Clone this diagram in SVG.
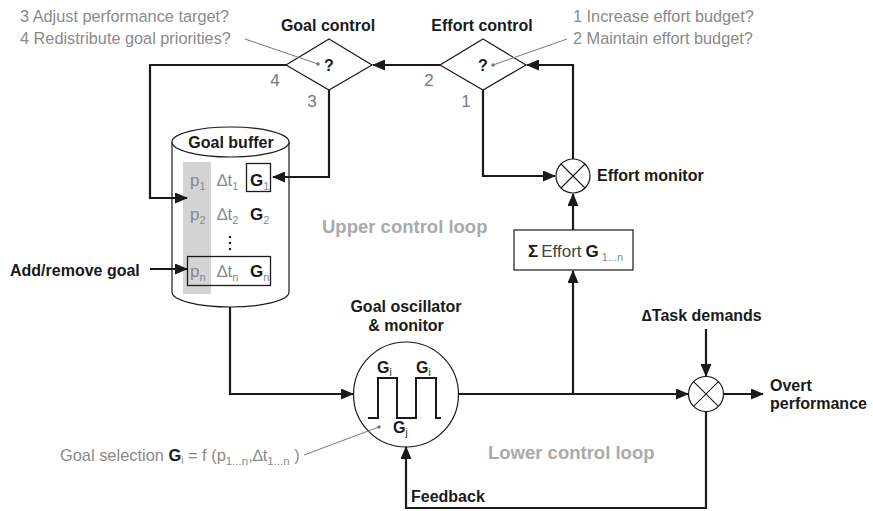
<svg xmlns="http://www.w3.org/2000/svg" width="873" height="511" viewBox="0 0 873 511">
  <style>
    text { font-family: "Liberation Sans", Arial, sans-serif; }
    .lbl { font-size: 16px; font-weight: bold; fill: #1a1a1a; }
    .note { font-size: 16.3px; fill: #8a8a8a; }
    .num { font-size: 17px; fill: #777; }
    .loop { font-size: 18.5px; font-weight: bold; fill: #aaa; }
    .row { font-size: 17px; fill: #888; }
    .g { font-weight: bold; fill: #1a1a1a; }
    .sub { font-size: 11px; }
    .wire { fill: none; stroke: #1a1a1a; stroke-width: 2.2; }
    .thin { fill: #fff; stroke: #1a1a1a; stroke-width: 1.2; }
    .lead { fill: none; stroke: #777; stroke-width: 1; }
    .dot { fill: #777; }
  </style>
  <defs>
    <marker id="arrow" markerUnits="userSpaceOnUse" markerWidth="13" markerHeight="11" refX="12" refY="5.5" orient="auto">
      <path d="M0,0 L13,5.5 L0,11 z" fill="#1a1a1a"/>
    </marker>
  </defs>

  <rect width="873" height="511" fill="#fff"/>

  <!-- goal control decision -->
  <g id="goal-control">
    <polygon class="thin" points="329,39 372,65 329,90 286,65"/>
    <text class="lbl" x="329" y="71" text-anchor="middle">?</text>
    <text class="lbl" x="328" y="31" text-anchor="middle">Goal control</text>
    <text class="num" x="275" y="86" text-anchor="middle">4</text>
    <text class="num" x="312" y="107" text-anchor="middle">3</text>
    <text class="note" x="20" y="22">3 Adjust performance target?</text>
    <text class="note" x="20" y="44">4 Redistribute goal priorities?</text>
    <path class="lead" d="M245,39 L318,64"/>
    <circle class="dot" cx="318" cy="64" r="1.8"/>
  </g>

  <!-- effort control decision -->
  <g id="effort-control">
    <polygon class="thin" points="483,39 526,65 483,90 440,65"/>
    <text class="lbl" x="483" y="71" text-anchor="middle">?</text>
    <text class="lbl" x="482" y="31" text-anchor="middle">Effort control</text>
    <text class="num" x="429" y="86" text-anchor="middle">2</text>
    <text class="num" x="466" y="107" text-anchor="middle">1</text>
    <text class="note" x="573" y="22">1 Increase effort budget?</text>
    <text class="note" x="573" y="44">2 Maintain effort budget?</text>
    <path class="lead" d="M567,39 L493,65"/>
    <circle class="dot" cx="493" cy="65" r="1.8"/>
  </g>

  <!-- goal buffer cylinder -->
  <g id="goal-buffer">
    <path class="thin" d="M172,142 V292 A58.5,15 0 0 0 289,292 V142"/>
    <ellipse class="thin" cx="230.5" cy="142" rx="58.5" ry="15"/>
    <text class="lbl" x="231" y="148" text-anchor="middle">Goal buffer</text>
    <rect x="183" y="162" width="28" height="132" fill="#d4d4d4"/>
    <rect x="246.5" y="163.5" width="24" height="28" fill="none" stroke="#1a1a1a" stroke-width="1.3"/>
    <rect x="187.5" y="256.5" width="83" height="29" fill="none" stroke="#1a1a1a" stroke-width="1.3"/>
    <text class="row" x="190" y="186">p<tspan class="sub" dy="4">1</tspan></text>
    <text class="row" x="217" y="186">∆t<tspan class="sub" dy="4">1</tspan></text>
    <text class="row g" x="250" y="186">G<tspan class="sub" dy="4" style="font-weight:normal;fill:#888">1</tspan></text>
    <text class="row" x="190" y="220">p<tspan class="sub" dy="4">2</tspan></text>
    <text class="row" x="217" y="220">∆t<tspan class="sub" dy="4">2</tspan></text>
    <text class="row g" x="250" y="220">G<tspan class="sub" dy="4" style="font-weight:normal;fill:#888">2</tspan></text>
    <circle cx="230" cy="237" r="1.2" fill="#1a1a1a"/>
    <circle cx="230" cy="243" r="1.2" fill="#1a1a1a"/>
    <circle cx="230" cy="249" r="1.2" fill="#1a1a1a"/>
    <text class="row" x="190" y="277">p<tspan class="sub" dy="4">n</tspan></text>
    <text class="row" x="217" y="277">∆t<tspan class="sub" dy="4">n</tspan></text>
    <text class="row g" x="250" y="277">G<tspan class="sub" dy="4" style="font-weight:normal;fill:#888">n</tspan></text>
    <text class="lbl" x="10" y="276">Add/remove goal</text>
  </g>

  <!-- effort monitor -->
  <g id="effort-monitor">
    <circle class="thin" cx="573" cy="176" r="17"/>
    <path d="M561,164 L585,188 M585,164 L561,188" stroke="#1a1a1a" stroke-width="1.1"/>
    <text class="lbl" x="597" y="181">Effort monitor</text>
  </g>

  <!-- summed effort -->
  <g id="effort-sum">
    <rect class="thin" x="514" y="230" width="119" height="40"/>
    <text x="528" y="257" font-size="17" fill="#1a1a1a"><tspan font-weight="bold">Σ</tspan><tspan fill="#444" dx="3">Effort</tspan><tspan font-weight="bold" dx="4">G</tspan><tspan font-size="11" fill="#888" dx="3" dy="4">1...n</tspan></text>
  </g>

  <text class="loop" x="322" y="233">Upper control loop</text>
  <text class="loop" x="488" y="459">Lower control loop</text>

  <!-- goal oscillator -->
  <g id="goal-oscillator">
    <circle class="thin" cx="406" cy="394.5" r="52.5"/>
    <path d="M368,418 H378 V378 H397 V418 H416 V378 H436 V418 H441" fill="none" stroke="#1a1a1a" stroke-width="2"/>
    <text class="lbl" x="377" y="373">G<tspan font-size="10" font-weight="normal" dy="3">i</tspan></text>
    <text class="lbl" x="416" y="373">G<tspan font-size="10" font-weight="normal" dy="3">i</tspan></text>
    <text class="lbl" x="393" y="433">G<tspan font-size="10" font-weight="normal" dy="3">j</tspan></text>
    <text class="lbl" x="406" y="312" text-anchor="middle">Goal oscillator</text>
    <text class="lbl" x="406" y="331" text-anchor="middle">&amp; monitor</text>
    <text class="note" x="60" y="461" style="font-size:16.4px">Goal selection <tspan class="g">G</tspan><tspan font-size="10" dy="3">i</tspan><tspan dy="-3"> = f (p</tspan><tspan font-size="11.5" dy="4">1...n</tspan><tspan dy="-4">,∆t</tspan><tspan font-size="11.5" dy="4">1...n</tspan><tspan dy="-4"> )</tspan></text>
    <path class="lead" d="M304,455 L379,427"/>
    <circle class="dot" cx="379" cy="427" r="1.8"/>
  </g>

  <!-- task demand comparator -->
  <g id="task-comparator">
    <circle class="thin" cx="706" cy="394" r="17.5"/>
    <path d="M693.6,381.6 L718.4,406.4 M718.4,381.6 L693.6,406.4" stroke="#1a1a1a" stroke-width="1.1"/>
    <text class="lbl" x="642" y="321">∆Task demands</text>
    <text class="lbl" x="770" y="391">Overt</text>
    <text class="lbl" x="770" y="409">performance</text>
  </g>

  <text class="lbl" x="411" y="502">Feedback</text>

  <!-- connectors, drawn last so arrowheads sit over the node outlines -->
  <g id="connectors">
    <path class="wire" d="M286,65 H150 V198 H187" marker-end="url(#arrow)"/>
    <path class="wire" d="M329,90 V177 H273" marker-end="url(#arrow)"/>
    <path class="wire" d="M440,65 H373" marker-end="url(#arrow)"/>
    <path class="wire" d="M483,90 V176 H555" marker-end="url(#arrow)"/>
    <path class="wire" d="M573,159 V65 H527" marker-end="url(#arrow)"/>
    <path class="wire" d="M573,230 V194" marker-end="url(#arrow)"/>
    <path class="wire" d="M459,394 H688" marker-end="url(#arrow)"/>
    <path class="wire" d="M573,394 V271" marker-end="url(#arrow)"/>
    <path class="wire" d="M230,307 V394 H353" marker-end="url(#arrow)"/>
    <path class="wire" d="M706,329 V376" marker-end="url(#arrow)"/>
    <path class="wire" d="M724,394 H763" marker-end="url(#arrow)"/>
    <path class="wire" d="M706,412 V508 H406 V447" marker-end="url(#arrow)"/>
    <path class="wire" d="M150,269 H187" marker-end="url(#arrow)"/>
  </g>
</svg>
